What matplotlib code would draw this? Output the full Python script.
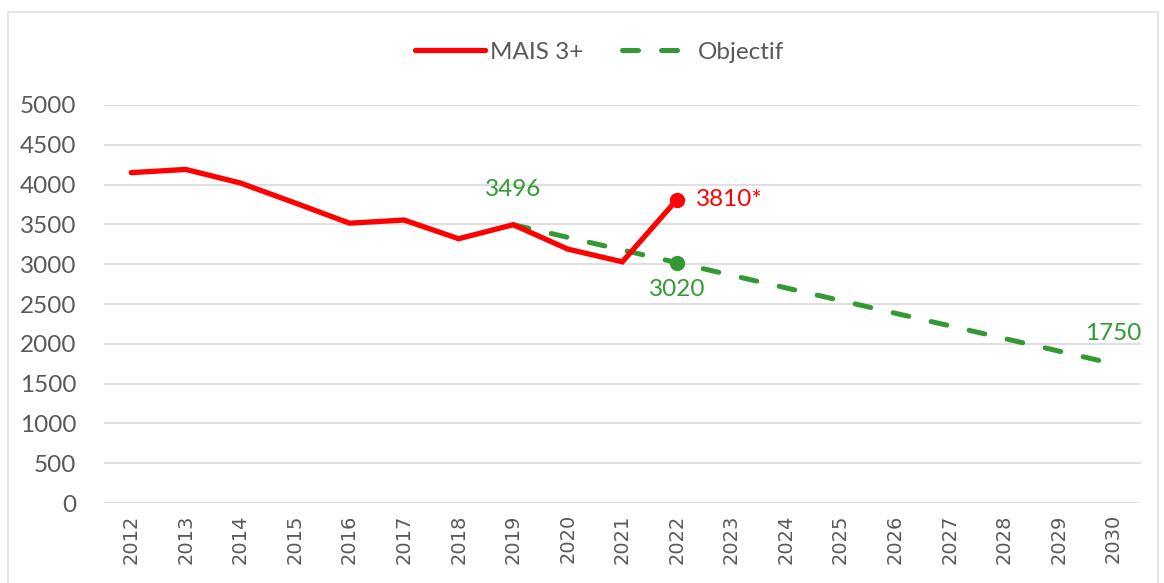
import matplotlib.pyplot as plt
from matplotlib.patches import Rectangle

years = [str(y) for y in range(2012, 2031)]
mais_years = list(range(2012, 2023))
mais_values = [4150, 4190, 4020, 3770, 3515, 3555, 3320, 3496, 3190, 3030, 3810]
obj_years = [2019, 2022, 2030]
obj_values = [3496, 3020, 1750]

red = '#FF0000'
green = '#339933'
text_gray = '#595959'
grid_color = '#D9D9D9'

fig = plt.figure(figsize=(11.64, 5.83), dpi=100)
ax = fig.add_axes([0.0893, 0.137, 0.8907, 0.683])

# chart border like Excel
fig.patches.append(Rectangle((0.007, -0.05), 0.988, 1.03, transform=fig.transFigure,
                             fill=False, edgecolor='#E0E0E0', linewidth=1.2))

x_mais = [y - 2012 for y in mais_years]
x_obj = [y - 2012 for y in obj_years]

ax.plot(x_mais, mais_values, color=red, linewidth=3.8, solid_joinstyle='miter',
        solid_capstyle='round', label='MAIS 3+', zorder=3)
ax.plot(x_obj, obj_values, color=green, linewidth=3.6, linestyle=(0, (3.2, 4.6)),
        dash_capstyle='round', label='Objectif', zorder=2)

# end markers
ax.plot(x_mais[-1], mais_values[-1], 'o', color=red, markersize=10, zorder=4)
ax.plot(x_obj[1], obj_values[1], 'o', color=green, markersize=10, zorder=4)

# data labels
lab_font = dict(fontsize=17.5, family='Lato')
ax.annotate('3496', (x_obj[0], obj_values[0]), xytext=(0, 18), textcoords='offset points',
            ha='center', va='bottom', color=green, **lab_font)
ax.annotate('3810*', (x_mais[-1], mais_values[-1]), xytext=(14, 0), textcoords='offset points',
            ha='left', va='center', color=red, **lab_font)
ax.annotate('3020', (x_obj[1], obj_values[1]), xytext=(0, -12), textcoords='offset points',
            ha='center', va='top', color=green, **lab_font)
ax.annotate('1750', (x_obj[-1], obj_values[-1]), xytext=(0, 14), textcoords='offset points',
            ha='center', va='bottom', color=green, **lab_font)

ax.set_xlim(-0.5, len(years) - 0.5)
ax.set_ylim(0, 5000)
ax.set_yticks(range(0, 5001, 500))
ax.set_xticks(range(len(years)))
ax.set_xticklabels(years, rotation=90, color=text_gray, fontsize=14, family='DejaVu Sans')
for lbl in ax.get_yticklabels():
    lbl.set_fontfamily('Lato')
    lbl.set_fontsize(17.5)
    lbl.set_color(text_gray)
ax.tick_params(axis='both', length=0)
ax.tick_params(axis='y', pad=20)
ax.tick_params(axis='x', pad=8)

ax.grid(axis='y', color=grid_color, linewidth=1.2)
ax.set_axisbelow(True)
for spine in ax.spines:
    ax.spines[spine].set_visible(False)

leg = fig.legend(loc='center', bbox_to_anchor=(0.515, 0.91), ncol=2, frameon=False,
                 prop={'family': 'Lato', 'size': 17.5}, handlelength=2.9, columnspacing=1.6,
                 handletextpad=0.2)
for t in leg.get_texts():
    t.set_color(text_gray)

fig.savefig('out.png', dpi=100)
